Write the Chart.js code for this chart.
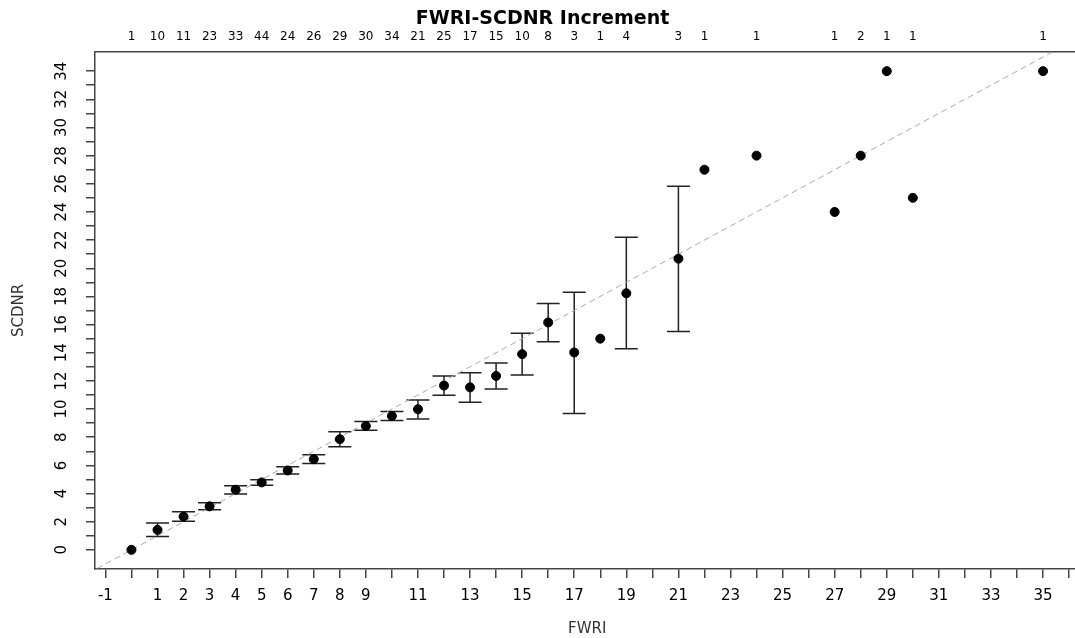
<!DOCTYPE html>
<html lang="en">
<head>
<meta charset="UTF-8">
<title>FWRI-SCDNR Increment</title>
<script src="https://cdn.jsdelivr.net/npm/chart.js"></script>
<style>
  html, body { margin: 0; padding: 0; background: #fff; overflow: hidden; }
  #wrap { width: 1085px; height: 638px; }
</style>
</head>
<body>
<div id="wrap"><canvas id="chart" width="1085" height="638"></canvas></div>
<script>
// FWRI classes, mean SCDNR, interval bounds and the counts printed on top
const fwri = [0, 1, 2, 3, 4, 5, 6, 7, 8, 9, 10, 11, 12, 13, 14, 15, 16, 17, 18, 19, 21, 22, 24, 27, 28, 29, 30, 35];
const scdnrMean = [0, 1.42, 2.36, 3.09, 4.27, 4.79, 5.64, 6.44, 7.86, 8.80, 9.51, 9.99, 11.67, 11.54, 12.35, 13.90, 16.15, 14.02, 15.0, 18.22, 20.68, 27, 28, 24, 28, 34, 25, 34];
const scdnrLow = [null, 0.94, 2.03, 2.85, 3.97, 4.58, 5.38, 6.14, 7.32, 8.50, 9.18, 9.30, 10.98, 10.48, 11.43, 12.42, 14.78, 9.68, null, 14.28, 15.51, null, null, null, null, null, null, null];
const scdnrHigh = [null, 1.91, 2.71, 3.35, 4.55, 4.98, 5.90, 6.75, 8.38, 9.11, 9.82, 10.65, 12.34, 12.58, 13.27, 15.39, 17.49, 18.29, null, 22.21, 25.83, null, null, null, null, null, null, null];
const counts = [1, 10, 11, 23, 33, 44, 24, 26, 29, 30, 34, 21, 25, 17, 15, 10, 8, 3, 1, 4, 3, 1, 1, 1, 2, 1, 1, 1];

// axis ticks
const xTickValues = [];
for (let v = -1; v <= 36; v++) xTickValues.push(v);
const xTickLabels = [-1, 1, 2, 3, 4, 5, 6, 7, 8, 9, 11, 13, 15, 17, 19, 21, 23, 25, 27, 29, 31, 33, 35];
const yTickValues = [];
for (let v = 0; v <= 34; v++) yTickValues.push(v);
const yTickLabels = [0, 2, 4, 6, 8, 10, 12, 14, 16, 18, 20, 22, 24, 26, 28, 30, 32, 34];

// 1:1 reference line
const refLine = [-2, 40];

const FONT = "'DejaVu Sans', sans-serif";
const AXIS = '#444';

const errorBars = {
  id: 'errorBars',
  beforeDatasetsDraw(chart) {
    const ctx = chart.ctx;
    const xs = chart.scales.x, ys = chart.scales.y;
    ctx.save();
    ctx.strokeStyle = '#222';
    ctx.lineWidth = 1.5;
    fwri.forEach((f, i) => {
      if (scdnrLow[i] == null) return;
      const px = xs.getPixelForValue(f);
      const y1 = ys.getPixelForValue(scdnrLow[i]);
      const y2 = ys.getPixelForValue(scdnrHigh[i]);
      ctx.beginPath();
      ctx.moveTo(px, y1); ctx.lineTo(px, y2);
      ctx.moveTo(px - 11.5, y1); ctx.lineTo(px + 11.5, y1);
      ctx.moveTo(px - 11.5, y2); ctx.lineTo(px + 11.5, y2);
      ctx.stroke();
    });
    ctx.restore();
  }
};

new Chart(document.getElementById('chart'), {
  type: 'scatter',
  data: {
    datasets: [
      {
        label: 'SCDNR',
        data: fwri.map((f, i) => ({ x: f, y: scdnrMean[i] })),
        backgroundColor: '#000',
        borderColor: '#000',
        pointRadius: 4.5,
        pointHoverRadius: 4.5,
        order: 1
      },
      {
        type: 'line',
        label: '1:1',
        data: refLine.map(v => ({ x: v, y: v })),
        borderColor: '#aaa',
        borderWidth: 1,
        borderDash: [6, 4],
        pointRadius: 0,
        fill: false,
        order: 2
      }
    ]
  },
  options: {
    responsive: false,
    animation: false,
    layout: { padding: 0 },
    plugins: {
      legend: { display: false },
      tooltip: { enabled: false },
      title: {
        display: true,
        text: 'FWRI-SCDNR Increment',
        color: '#000',
        font: { family: FONT, size: 19, weight: 'bold' },
        padding: { top: 8, bottom: 0.2 }
      }
    },
    scales: {
      x: {
        type: 'linear',
        position: 'bottom',
        min: -1.4,
        max: 36.4,
        afterFit(s) { s.height = 69; },
        afterBuildTicks(s) { s.ticks = xTickValues.map(v => ({ value: v })); },
        ticks: {
          autoSkip: false,
          maxRotation: 0,
          padding: 9,
          color: '#000',
          font: { family: FONT, size: 15 },
          callback: v => xTickLabels.includes(v) ? String(v) : ''
        },
        grid: { drawOnChartArea: false, drawTicks: true, tickLength: 9, color: AXIS, lineWidth: 1.5 },
        border: { display: true, color: AXIS, width: 1.5 },
        title: {
          display: true, text: 'FWRI', color: '#333',
          font: { family: FONT, size: 15 },
          padding: { top: 0, bottom: 0 }
        }
      },
      x2: {
        type: 'linear',
        position: 'top',
        min: -1.4,
        max: 36.4,
        afterFit(s) { s.height = 21; },
        afterBuildTicks(s) { s.ticks = fwri.map(v => ({ value: v })); },
        ticks: {
          autoSkip: false,
          maxRotation: 0,
          padding: 8,
          color: '#000',
          font: { family: FONT, size: 12 },
          callback: v => String(counts[fwri.indexOf(v)])
        },
        grid: { display: false, drawTicks: false },
        border: { display: true, color: AXIS, width: 1.5 }
      },
      y: {
        type: 'linear',
        position: 'left',
        min: -1.36,
        max: 35.36,
        afterFit(s) { s.width = 95; },
        afterBuildTicks(s) { s.ticks = yTickValues.map(v => ({ value: v })); },
        ticks: {
          autoSkip: false,
          minRotation: 90,
          maxRotation: 90,
          crossAlign: 'center',
          padding: 14,
          color: '#000',
          font: { family: FONT, size: 15 },
          callback: v => yTickLabels.includes(v) ? String(v) : ''
        },
        grid: { drawOnChartArea: false, drawTicks: true, tickLength: 9, color: AXIS, lineWidth: 1.5 },
        border: { display: true, color: AXIS, width: 1.5 },
        title: {
          display: true, text: 'SCDNR', color: '#333',
          font: { family: FONT, size: 15 },
          padding: { top: 10, bottom: 0 }
        }
      }
    }
  },
  plugins: [errorBars]
});
</script>
</body>
</html>
